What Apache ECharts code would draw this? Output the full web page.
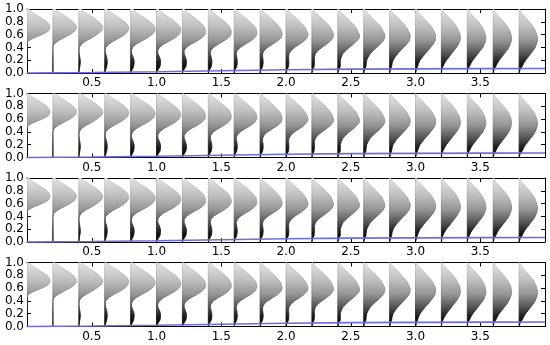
<!DOCTYPE html>
<html><head><meta charset="utf-8">
<script src="https://cdn.jsdelivr.net/npm/echarts@6/dist/echarts.min.js"></script>
<style>html,body{margin:0;padding:0;background:#fff}#c{width:550px;height:345px}</style>
</head><body><div id="c"></div>
<script>
// positions of the distribution snapshots along x
const shapeX = [0.0,0.2,0.4,0.6,0.8,1.0,1.2,1.4,1.6,1.8,2.0,2.2,2.4,2.6,2.8,3.0,3.2,3.4,3.6,3.8];
// y levels at which densities are sampled
const yLevels = [0,0.05,0.1,0.15,0.2,0.25,0.3,0.35,0.4,0.45,0.5,0.55,0.6,0.65,0.7,0.75,0.8,0.85,0.9,0.95,1.0];
// density values (arbitrary units) per snapshot, at yLevels
const dens00 = [0,0,0,0,0,0,0,0,0,0,1,7,15,21,23,22.5,20,15,10,5,1.5];
const dens01 = [0,0,0,0,0,0,0,0,0,1,5,11,17,21.5,23.5,23,20,16,11,6,2];
const dens02 = [0,0.5,1,1.5,1.5,1,0.5,0.2,0.5,2.5,7,13,18,22,24,23,20,16,11,6,2];
const dens03 = [0,1,2,2.5,2.5,2,1,0.5,1,4,9,15,20,23,24,23,20,15.5,10.5,5.5,2];
const dens04 = [0,1.5,3,3.5,3.5,2.5,1.2,0.8,2,5.5,11,17,21.5,24,24.5,23,19.5,15,10,5.5,2];
const dens05 = [0,1.5,3.5,4,4,3,1.5,1.2,3,7,13,18.5,22.5,24,24,22,18.5,14,9.5,5,1.5];
const dens06 = [0,1.5,3.5,4,4,3,1.8,1.8,4,8.5,14.5,19.5,22.5,23,22.5,20.5,17,13,9,4.5,1.5];
const dens07 = [0,1.2,3,3.5,3.5,2.8,2,2.5,5,10,15.5,20,22.5,23,22,20,16.5,12.5,8.5,4.5,1.5];
const dens08 = [0,1,2.5,3,3,2.5,2,3,6,11,16.5,20.5,22.5,22.5,21.5,19,15.5,12,8,4,1.2];
const dens09 = [0,1,2.5,3,3,2.5,2.5,4,7.5,12.5,17.5,21,22,21.5,20,17.5,14.5,11,7.5,3.5,1];
const dens10 = [0,1,2.5,2.8,2.8,2.5,3,5,8.5,13.5,18,21,22,21,19.5,17,14,10.5,7,3.5,1];
const dens11 = [0,0.8,2.2,2.5,2.5,2.5,3.5,6,10,14.5,18.5,21,21.5,20.5,19,16.5,13.5,10,6.5,3,1];
const dens12 = [0,1,2.5,2.5,2.5,3.5,5,8,11.5,15.5,19,21.5,21.5,20,18.5,16,13,9.5,6.5,3,0.8];
const dens13 = [0,1,2.2,2.5,3,4.5,6.5,9.5,13,16.5,19.5,21,21,19.5,18,15.5,12.5,9,6,3,0.8];
const dens14 = [0,1,2,2.5,3.5,5.5,8,11,14,17,19.5,20.5,20.5,19,17.5,15,12,9,6,2.8,0.7];
const dens15 = [0,1,2,3,4.5,7,9.5,12.5,15,17.5,19.5,20,20,18.5,17,14.5,11.5,8.5,5.5,2.5,0.6];
const dens16 = [0,0.5,1.5,3,5,7.5,10,12.5,15,17,18.5,19,18.5,17.5,16,14,11.5,8.5,5.5,2.5,0.5];
const dens17 = [0,0.5,2,3.5,5.5,8,10.5,13,15.5,17,18.3,18.5,18,17,15.5,13.5,11,8,5,2.2,0.5];
const dens18 = [0,0.8,2.5,4,6,8.5,11,13.5,15.5,17,18,18.3,17.8,16.8,15.2,13,10.5,7.5,4.8,2,0.4];
const dens19 = [0,1,3,4.5,6.5,9,11.5,14,16,17.3,18.2,18.3,17.5,16.5,15,12.8,10.2,7.3,4.5,2,0.4];
const densities = [dens00,dens01,dens02,dens03,dens04,dens05,dens06,dens07,dens08,dens09,
                   dens10,dens11,dens12,dens13,dens14,dens15,dens16,dens17,dens18,dens19];
const densityToX = 1/129;   // density units -> x-axis units
// blue line
const blueX = [0,0.5,1.0,1.5,2.0,2.5,3.0,3.5,4.0];
const blueY = [0.0,0.008,0.02,0.035,0.05,0.06,0.065,0.068,0.07];
// axes
const xMin = 0, xMax = 4.0, xStep = 0.5;
const yMin = 0, yMax = 1.0, yStep = 0.2;
const panelCount = 4;

const chart = echarts.init(document.getElementById('c'), null, {renderer:'canvas'});

function grad(top, bot, vals){
  const offs = [0, 0.28, 0.5, 0.7, 0.85, 1];
  return new echarts.graphic.LinearGradient(0, top, 0, bot,
    offs.map((o,i)=>({offset:o, color:'rgb('+vals[i]+','+vals[i]+','+vals[i]+')'})), true);
}
function renderItem(params, api){
  const x = api.value(0);
  const d = densities[api.value(1)];
  const pts = [api.coord([x, yLevels[0]])];
  for (let k = 0; k < yLevels.length; k++){
    pts.push(api.coord([x + d[k]*densityToX, yLevels[k]]));
  }
  pts.push(api.coord([x, yLevels[yLevels.length-1]]));
  const top = api.coord([x, yMax])[1], bot = api.coord([x, yMin])[1];
  const fill = grad(top, bot, [228,190,148,82,25,0]);
  const stroke = grad(top, bot, [200,165,120,60,12,0]);
  return {type:'polygon', shape:{points:pts}, style:{fill, stroke, lineWidth:0.8}};
}

const font = {fontFamily:'DejaVu Sans', fontSize:12, color:'#000'};
const grids=[], xAxes=[], yAxes=[], series=[];
const shapeData = shapeX.map((x,i)=>[x,i]);
const blueData = blueX.map((x,i)=>[x, blueY[i]]);
function tick(){ return {show:true, inside:true, length:4, lineStyle:{color:'#000', width:1}}; }
function line(show){ return {show, onZero:false, lineStyle:{color:'#000', width:1}}; }
for (let p=0; p<panelCount; p++){
  grids.push({left:27, right:5, top:9+84.5*p, height:64});
  xAxes.push({type:'value', gridIndex:p, min:xMin, max:xMax, interval:xStep, position:'bottom',
    axisLine:line(true), axisTick:tick(), splitLine:{show:false},
    axisLabel:Object.assign({margin:4, formatter:v=> (v<=xMin+1e-9||v>=xMax-1e-9)?'':v.toFixed(1)}, font)});
  xAxes.push({type:'value', gridIndex:p, min:xMin, max:xMax, interval:xStep, position:'top',
    axisLine:line(true), axisTick:tick(), splitLine:{show:false}, axisLabel:{show:false}});
  yAxes.push({type:'value', gridIndex:p, min:yMin, max:yMax, interval:yStep, position:'left',
    axisLine:line(true), axisTick:tick(), splitLine:{show:false},
    axisLabel:Object.assign({margin:3, formatter:v=>v.toFixed(1)}, font)});
  yAxes.push({type:'value', gridIndex:p, min:yMin, max:yMax, interval:yStep, position:'right',
    axisLine:line(true), axisTick:tick(), splitLine:{show:false}, axisLabel:{show:false}});
  series.push({type:'custom', xAxisIndex:2*p, yAxisIndex:2*p, data:shapeData, renderItem, clip:true,
    animation:false, silent:true, z:2});
  series.push({type:'line', xAxisIndex:2*p, yAxisIndex:2*p, data:blueData, showSymbol:false, symbol:'none',
    lineStyle:{color:'#6e6ed8', width:1.6}, animation:false, silent:true, z:5, clip:false});
}
chart.setOption({backgroundColor:'#fff', animation:false, grid:grids, xAxis:xAxes, yAxis:yAxes, series});
</script></body></html>
